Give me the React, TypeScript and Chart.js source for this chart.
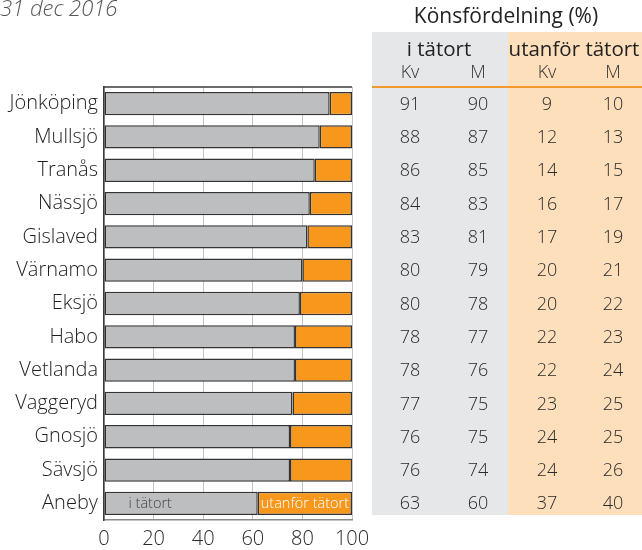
import React, { useEffect, useRef } from "react";
import { Chart, registerables } from "chart.js";

Chart.register(...registerables);

const titleText = "31 dec 2016";
const tableTitle = "Könsfördelning (%)";
const groupLabels = ["i tätort", "utanför tätort"];
const subLabels = ["Kv", "M", "Kv", "M"];

const categories = [
  "Jönköping", "Mullsjö", "Tranås", "Nässjö", "Gislaved", "Värnamo", "Eksjö",
  "Habo", "Vetlanda", "Vaggeryd", "Gnosjö", "Sävsjö", "Aneby",
];
const iTatort = [91, 87, 85, 83, 82, 80, 79, 77, 77, 76, 75, 75, 62];
const utanfor = [9, 13, 15, 17, 18, 20, 21, 23, 23, 24, 25, 25, 38];

const kvI = [91, 88, 86, 84, 83, 80, 80, 78, 78, 77, 76, 76, 63];
const mI = [90, 87, 85, 83, 81, 79, 78, 77, 76, 75, 75, 74, 60];
const kvU = [9, 12, 14, 16, 17, 20, 20, 22, 22, 23, 24, 24, 37];
const mU = [10, 13, 15, 17, 19, 21, 22, 23, 24, 25, 25, 26, 40];

const xTicks = [0, 20, 40, 60, 80, 100];

const FONT = "'Open Sans', 'Noto Sans', sans-serif";
const GRAY = "#bdbec0";
const ORANGE = "#f7981d";

const overlayPlugin = {
  id: "overlay",
  beforeDraw(chart: any) {
    const ctx = chart.ctx;
    ctx.save();
    ctx.fillStyle = "#e6e7e9";
    ctx.fillRect(372, 32, 136, 483);
    ctx.fillStyle = "#fddfbb";
    ctx.fillRect(508, 32, 134, 483);
    ctx.restore();
  },
  afterDatasetsDraw(chart: any) {
    const ctx = chart.ctx;
    const { left, right, top } = chart.chartArea;
    const yScale = chart.scales.y;
    ctx.save();
    ctx.strokeStyle = "#3a3a3a";
    ctx.lineWidth = 1.5;
    ctx.beginPath();
    ctx.moveTo(left, top);
    ctx.lineTo(right, top);
    ctx.stroke();

    ctx.fillStyle = "#555";
    ctx.font = `italic 300 22px ${FONT}`;
    ctx.textAlign = "left";
    ctx.textBaseline = "alphabetic";
    ctx.fillText(titleText, 0, 16);

    ctx.fillStyle = "#222";
    ctx.textAlign = "center";
    ctx.textBaseline = "middle";
    ctx.font = `400 21px ${FONT}`;
    ctx.fillText(tableTitle, 506, 17);
    ctx.font = `400 20.5px ${FONT}`;
    ctx.fillText(groupLabels[0], 439, 50);
    ctx.fillText(groupLabels[1], 574, 50);
    const colX = [410, 478, 547, 613];
    ctx.fillStyle = "#333";
    ctx.font = `300 18px ${FONT}`;
    subLabels.forEach((s, i) => ctx.fillText(s, colX[i], 73));

    ctx.strokeStyle = "#f39a2e";
    ctx.lineWidth = 2;
    ctx.beginPath();
    ctx.moveTo(372, 87);
    ctx.lineTo(642, 87);
    ctx.stroke();

    ctx.fillStyle = "#2a2a2a";
    ctx.font = `300 18px ${FONT}`;
    const cols = [kvI, mI, kvU, mU];
    categories.forEach((_, r) => {
      const y = yScale.getPixelForValue(r);
      cols.forEach((arr, c) => ctx.fillText(String(arr[r]), colX[c], y + 1));
    });

    const last = categories.length - 1;
    const b0 = chart.getDatasetMeta(0).data[last];
    const b1 = chart.getDatasetMeta(1).data[last];
    ctx.font = `300 14.5px ${FONT}`;
    ctx.textAlign = "left";
    ctx.fillStyle = "#444";
    ctx.fillText(groupLabels[0], b0.base + 24, b0.y + 1);
    ctx.textAlign = "center";
    ctx.fillStyle = "#fff";
    ctx.fillText(groupLabels[1], (b1.base + b1.x) / 2, b1.y + 1);
    ctx.restore();
  },
};

export default function App() {
  const ref = useRef<HTMLCanvasElement>(null);
  useEffect(() => {
    if (!ref.current) return;
    const chart = new Chart(ref.current, {
      type: "bar",
      data: {
        labels: categories,
        datasets: [
          {
            label: groupLabels[0],
            data: iTatort,
            backgroundColor: GRAY,
            borderColor: "#333",
            borderWidth: 1.5,
            borderSkipped: false,
            barPercentage: 0.7,
            categoryPercentage: 1,
          },
          {
            label: groupLabels[1],
            data: utanfor,
            backgroundColor: ORANGE,
            borderColor: "#333",
            borderWidth: 1.5,
            borderSkipped: false,
            barPercentage: 0.7,
            categoryPercentage: 1,
          },
        ],
      },
      options: {
        indexAxis: "y",
        responsive: false,
        animation: false,
        devicePixelRatio: 1,
        layout: { padding: { top: 87, right: 290, left: 0, bottom: 0 } },
        plugins: { legend: { display: false }, tooltip: { enabled: false } },
        scales: {
          x: {
            stacked: true,
            min: 0,
            max: 100,
            afterBuildTicks: (s: any) => {
              s.ticks = xTicks.map((v) => ({ value: v }));
            },
            afterFit: (s: any) => {
              s.height = 30;
            },
            grid: { color: "#c4c4c4", lineWidth: 1, drawTicks: false },
            border: { display: true, color: "#8a8a8a", width: 1.5 },
            ticks: { color: "#2a2a2a", padding: 7, font: { family: FONT, size: 20, weight: "300" } },
          },
          y: {
            stacked: true,
            afterFit: (s: any) => {
              s.width = 104;
            },
            grid: { display: false, drawTicks: false },
            border: { display: true, color: "#3a3a3a", width: 1.5 },
            ticks: { color: "#1e1e1e", padding: 6, font: { family: FONT, size: 20, weight: "300" } },
          },
        },
      },
      plugins: [overlayPlugin],
    });
    return () => chart.destroy();
  }, []);
  return (
    <div style={{ position: "fixed", left: 0, top: 0, width: 642, height: 550, background: "#fff" }}>
      <canvas ref={ref} width={642} height={550} style={{ width: 642, height: 550, display: "block" }} />
    </div>
  );
}
